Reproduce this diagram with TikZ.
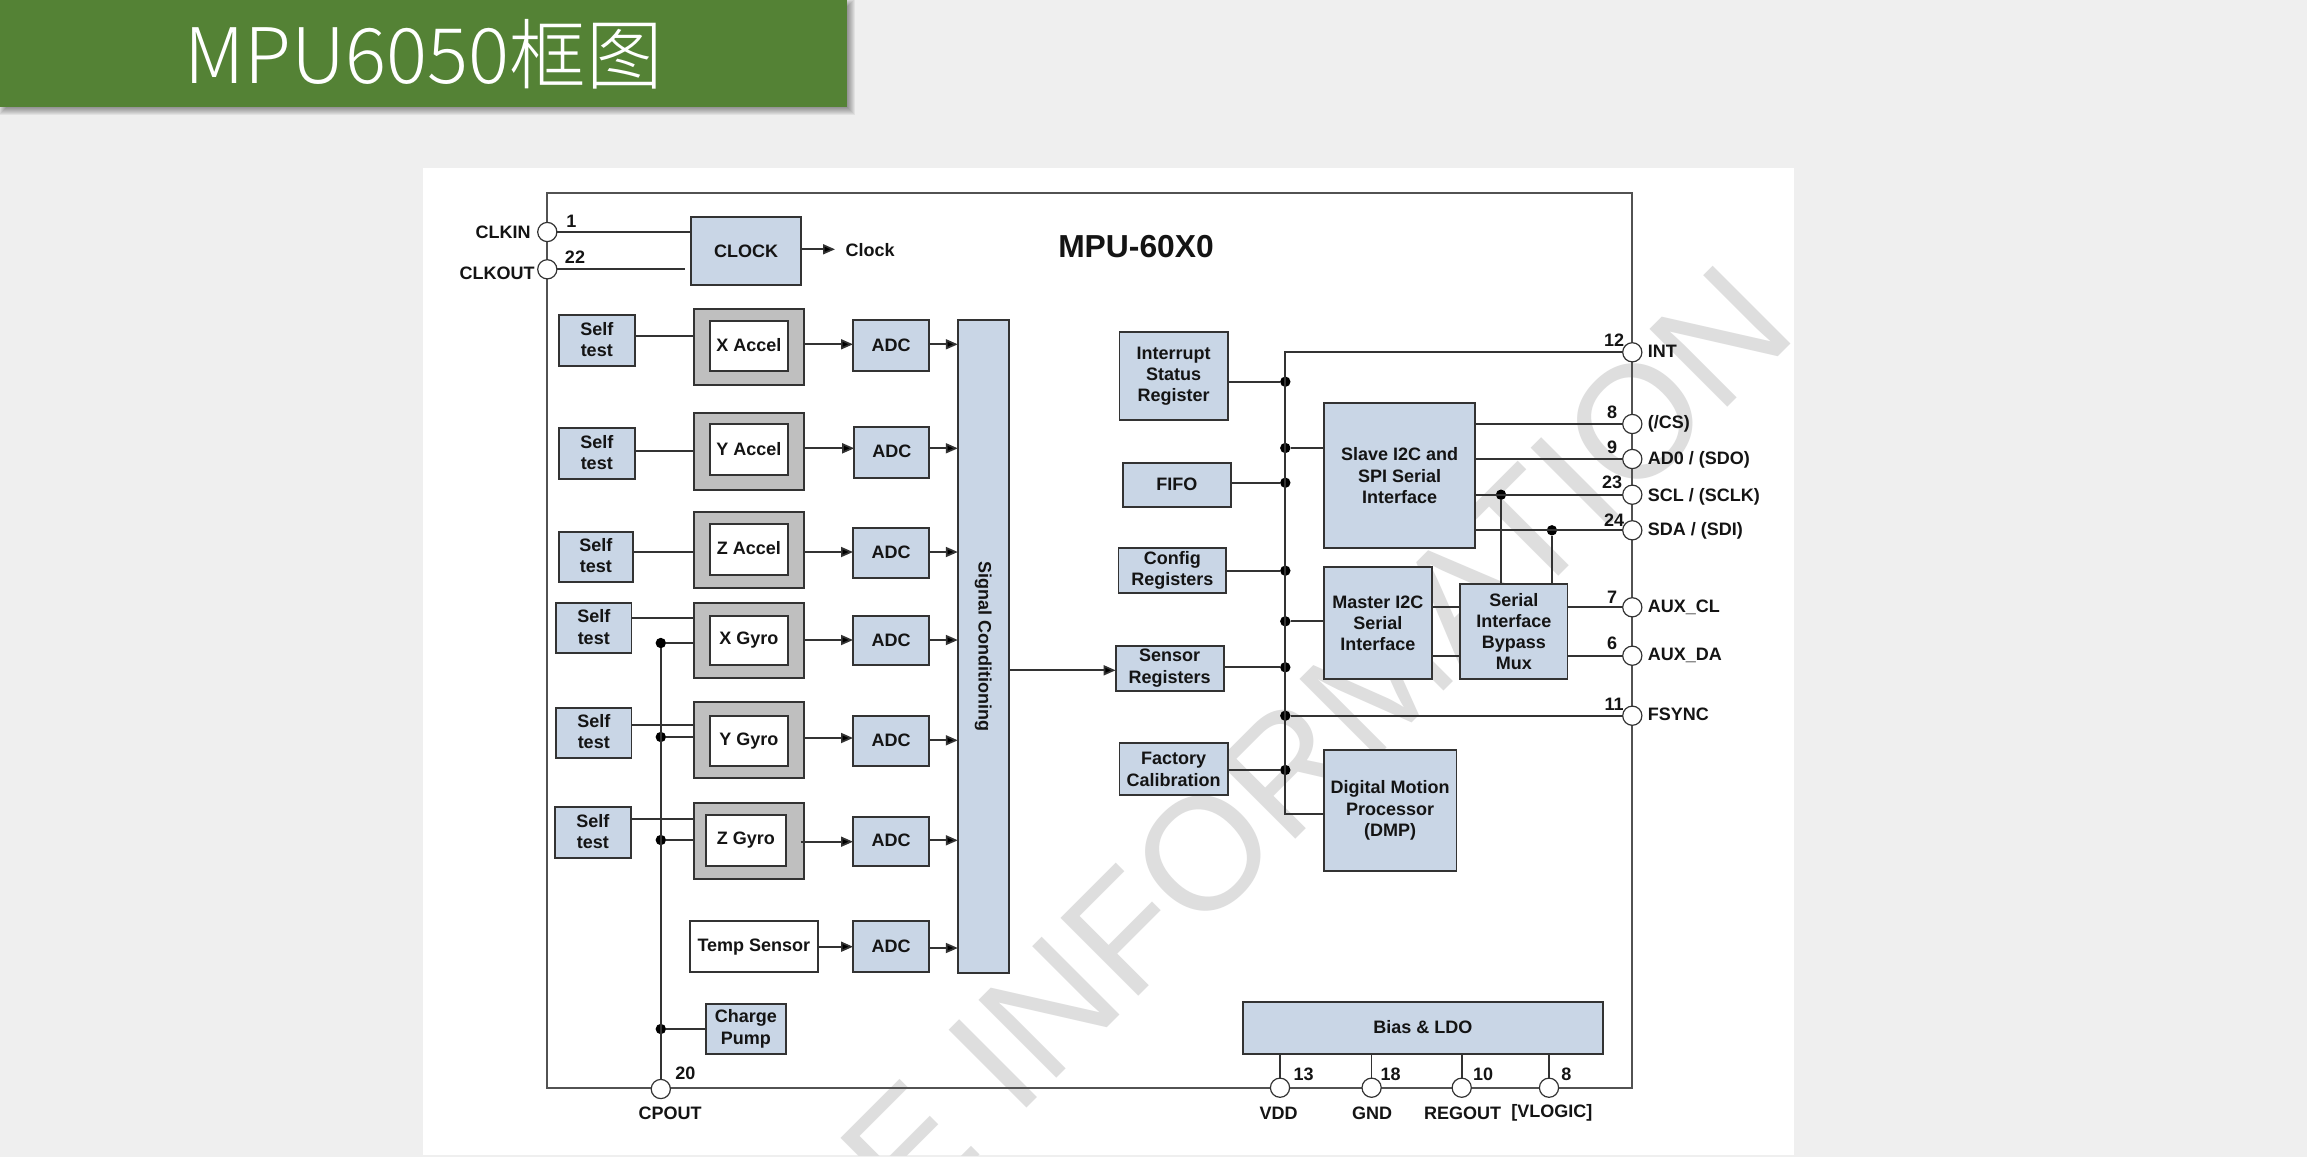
\documentclass[tikz,border=0pt]{standalone}
\usepackage{fontspec}
\setmainfont{Liberation Sans}
\newfontfamily\cjktitle{Noto Sans CJK SC Light}
\usetikzlibrary{arrows.meta}
\definecolor{bgpage}{HTML}{EFEFEF}
\definecolor{bannergreen}{HTML}{548235}
\definecolor{blockblue}{HTML}{C9D6E6}
\definecolor{sensorgrey}{HTML}{BFBFBF}
\definecolor{inkline}{HTML}{333333}
\definecolor{inktext}{HTML}{141414}
\definecolor{markgrey}{HTML}{DEDEDE}
\newcommand{\mkbox}[7]{%
  \pgfmathsetmacro{\cxx}{(#3+#5)/2}%
  \pgfmathsetmacro{\cyy}{(#4+#6)/2}%
  \pgfmathsetmacro{\wdd}{(#5-#3)*0.5}%
  \pgfmathsetmacro{\htt}{(#6-#4)*0.5}%
  \node[#1,minimum width=\wdd pt,minimum height=\htt pt] (#2) at (\cxx,\cyy) {#7};}
\newcommand{\up}[2]{\raisebox{#1}{#2}}
\tikzset{
  x=0.5pt,y=-0.5pt,
  boxtext/.style={font=\fontsize{9}{10.6}\selectfont\bfseries,text=inktext,align=center},
  blockbox/.style={draw=inkline,line width=0.9pt,fill=blockblue,inner sep=0pt,outer sep=0pt,boxtext},
  sensorouter/.style={draw=inkline,line width=0.9pt,fill=sensorgrey,inner sep=0pt,outer sep=0pt},
  sensorinner/.style={draw=inkline,line width=0.9pt,fill=white,inner sep=0pt,outer sep=0pt,boxtext},
  chipbox/.style={draw=inkline!85,line width=0.9pt,fill=none,inner sep=0pt,outer sep=0pt},
  pinring/.style={circle,draw=inkline,line width=0.6pt,fill=white,minimum size=9.6pt,inner sep=0pt,outer sep=0pt},
  busdot/.style={circle,fill=black,minimum size=5.2pt,inner sep=0pt,outer sep=0pt},
  wire/.style={draw=inkline,line width=0.85pt},
  arrowwire/.style={wire,-{Triangle[length=6pt,width=5pt,fill=black]}},
  lbl/.style={font=\fontsize{9}{10.6}\selectfont\bfseries,text=inktext,inner sep=0pt,outer sep=0pt,text height=6.5pt,text depth=0pt},
}
\begin{document}
\begin{tikzpicture}
\useasboundingbox (0,0) rectangle (2307,1157);
\fill[bgpage] (0,0) rectangle (2307,1157);
% white panel
\fill[white] (423,168) rectangle (1794,1155);
% watermark
\begin{scope}
\clip (423,168) rectangle (1794,1155);
\node[rotate=45,anchor=base east,inner sep=0pt,text=markgrey,font=\fontsize{80}{80}\selectfont] (watermark) at (1800,335) {CE INFORMATION};
\end{scope}
% banner with soft shadow
\foreach \gr in {4,3,2,1,0,-1,-2,-3,-4}{
  \fill[black,opacity=0.055] ({3-\gr},{3-\gr}) rectangle ({851+\gr},{111+\gr});
}
\fill[bannergreen] (0,0) rectangle (847,107);
\node[anchor=west,inner sep=0pt,text=white,font=\cjktitle\fontsize{38.3}{38.3}\selectfont] (title) at (184,54) {MPU6050框图};
% chip outline
\mkbox{chipbox}{chip}{547.3}{192.7}{1632.3}{1087.7}{}
% title in chip
\node[font=\fontsize{15.9}{16}\selectfont\bfseries,text=inktext,inner sep=0pt] (chipname) at (1136,247) {MPU-60X0};
% clock
\mkbox{blockbox}{clock}{691.3}{217}{800.8}{284.7}{CLOCK}
% self tests
\mkbox{blockbox}{st1}{558.8}{315}{634.7}{366}{\up{1pt}{Self}\\\up{1pt}{test}}
\mkbox{blockbox}{st2}{558.8}{428}{634.7}{479}{\up{1pt}{Self}\\\up{1pt}{test}}
\mkbox{blockbox}{st3}{558.8}{531.7}{633}{581.7}{\up{1pt}{Self}\\\up{1pt}{test}}
\mkbox{blockbox}{st4}{556}{602.7}{631.5}{653.3}{\up{1pt}{Self}\\\up{1pt}{test}}
\mkbox{blockbox}{st5}{556}{707.7}{631.5}{758}{\up{1pt}{Self}\\\up{1pt}{test}}
\mkbox{blockbox}{st6}{554.8}{807}{630.8}{858.3}{\up{1pt}{Self}\\\up{1pt}{test}}
% sensors
\mkbox{sensorouter}{xao}{694}{308.7}{804.3}{385}{}
\mkbox{sensorinner}{xai}{709.8}{320.7}{788.1}{371.3}{\up{0.7pt}{X Accel}}
\mkbox{sensorouter}{yao}{694}{413.3}{804.3}{490}{}
\mkbox{sensorinner}{yai}{709.8}{424}{788.1}{475}{\up{0.7pt}{Y Accel}}
\mkbox{sensorouter}{zao}{694}{512}{804.3}{588}{}
\mkbox{sensorinner}{zai}{709.8}{524}{788.1}{575}{\up{1.5pt}{Z Accel}}
\mkbox{sensorouter}{xgo}{694}{602.7}{804.3}{678.3}{}
\mkbox{sensorinner}{xgi}{709.8}{615.7}{788.1}{665}{X Gyro}
\mkbox{sensorouter}{ygo}{694}{702}{804.3}{778}{}
\mkbox{sensorinner}{ygi}{709.8}{715.7}{788.1}{766.3}{Y Gyro}
\mkbox{sensorouter}{zgo}{694}{803.3}{804.3}{879.3}{}
\mkbox{sensorinner}{zgi}{705.9}{815}{785.8}{865.7}{Z Gyro}
\mkbox{sensorinner}{temp}{690}{921.3}{817.8}{972.3}{Temp Sensor}
% ADCs
\mkbox{blockbox}{adc1}{853}{320.3}{929.3}{371.3}{\up{0.5pt}{ADC}}
\mkbox{blockbox}{adc2}{854.2}{426.7}{929.3}{477.7}{\up{0.5pt}{ADC}}
\mkbox{blockbox}{adc3}{853}{527.7}{929.3}{577.7}{\up{0.5pt}{ADC}}
\mkbox{blockbox}{adc4}{853}{615.7}{929.3}{665.3}{\up{0.5pt}{ADC}}
\mkbox{blockbox}{adc5}{853}{715.7}{929.3}{766.3}{\up{0.5pt}{ADC}}
\mkbox{blockbox}{adc6}{853}{816.7}{929.3}{865.7}{\up{0.5pt}{ADC}}
\mkbox{blockbox}{adc7}{853}{921.3}{929.3}{972.3}{\up{0.5pt}{ADC}}
% signal conditioning
\mkbox{blockbox}{sig}{957.8}{320.3}{1008.8}{973.3}{}
\node[boxtext,rotate=-90,inner sep=0pt] (sigtxt) at (sig.center) {Signal Conditioning};
\mkbox{blockbox}{pump}{705.9}{1004}{785.8}{1053.7}{Charge\\Pump}
% right side blocks
\mkbox{blockbox}{irq}{1119.5}{332.3}{1227.6}{420}{Interrupt\\Status\\Register}
\mkbox{blockbox}{fifo}{1122.9}{462.7}{1231}{506.7}{\up{0.5pt}{FIFO}}
\mkbox{blockbox}{cfg}{1118.5}{547.7}{1226.1}{593.3}{Config\\Registers}
\mkbox{blockbox}{sensor}{1115.6}{645.7}{1223.7}{690.7}{Sensor\\Registers}
\mkbox{blockbox}{factory}{1119.5}{743.3}{1227.6}{795.3}{Factory\\Calibration}
\mkbox{blockbox}{slave}{1324}{403}{1475.3}{548.3}{Slave I2C and\\SPI Serial\\Interface}
\mkbox{blockbox}{master}{1324}{567.3}{1431.7}{679.3}{Master I2C\\Serial\\Interface}
\mkbox{blockbox}{bypass}{1460.3}{584}{1567.4}{679.3}{Serial\\Interface\\Bypass\\Mux}
\mkbox{blockbox}{dmp}{1324}{749.7}{1456.4}{871}{Digital Motion\\Processor\\(DMP)}
\mkbox{blockbox}{bias}{1243.1}{1002.3}{1602.8}{1053.7}{\up{0.7pt}{Bias \& LDO}}
% junction dots
\node[busdot] (dclk1) at (660.8,643) {};
\node[busdot] (dclk2) at (660.8,737) {};
\node[busdot] (dclk3) at (660.8,840) {};
\node[busdot] (dclk4) at (660.8,1029) {};
\node[busdot] (dbus1) at (1285.3,381.7) {};
\node[busdot] (dbus2) at (1285.3,448) {};
\node[busdot] (dbus3) at (1285.3,482.7) {};
\node[busdot] (dbus4) at (1285.3,570.7) {};
\node[busdot] (dbus5) at (1285.3,621.3) {};
\node[busdot] (dbus6) at (1285.3,667.3) {};
\node[busdot] (dbus7) at (1285.3,715.7) {};
\node[busdot] (dbus8) at (1285.3,770) {};
\node[busdot] (dscl) at (1501,494.7) {};
\node[busdot] (dsda) at (1551.9,530.3) {};
\coordinate (busend) at (1285.3,813.7);
% pins
\node[pinring] (pclkin) at (547.3,232) {};
\node[pinring] (pclkout) at (547.3,269.3) {};
\node[pinring] (pcpout) at (660.8,1089) {};
\node[pinring] (pvdd) at (1280,1087.7) {};
\node[pinring] (pgnd) at (1371.6,1087.7) {};
\node[pinring] (pregout) at (1461.7,1087.7) {};
\node[pinring] (pvlogic) at (1549,1087.7) {};
\node[pinring] (pint) at (1632.3,352.3) {};
\node[pinring] (pcs) at (1632.3,424) {};
\node[pinring] (pad0) at (1632.3,459) {};
\node[pinring] (pscl) at (1632.3,494.7) {};
\node[pinring] (psda) at (1632.3,530.3) {};
\node[pinring] (pauxcl) at (1632.3,607.3) {};
\node[pinring] (pauxda) at (1632.3,655.7) {};
\node[pinring] (pfsync) at (1632.3,715.7) {};
\coordinate (clockout) at (835,249.3);
% connectors
\begin{scope}[every path/.style={wire}]
\draw (pclkin) -- (pclkin -| clock.west);
\draw (pclkout) -- ([xshift=-3pt]pclkout -| clock.west);
\draw (st1.east |- 0,336) -- (xao.west |- 0,336);
\draw (st2.east |- 0,450.7) -- (yao.west |- 0,450.7);
\draw (st3.east |- 0,552) -- (zao.west |- 0,552);
\draw (st4.east |- 0,618) -- (xgo.west |- 0,618);
\draw (st5.east |- 0,724.7) -- (ygo.west |- 0,724.7);
\draw (st6.east |- 0,819) -- (zgo.west |- 0,819);
\draw (dclk1) -- (pcpout);
\draw (dclk1) -- (dclk1 -| xgo.west);
\draw (dclk2) -- (dclk2 -| ygo.west);
\draw (dclk3) -- (dclk3 -| zgo.west);
\draw (dclk4) -- (dclk4 -| pump.west);
\draw (pint) -- (pint -| dbus1) -- (busend) -- (busend -| dmp.west);
\draw (irq.east |- dbus1) -- (dbus1);
\draw (slave.west |- dbus2) -- (dbus2);
\draw (fifo.east |- dbus3) -- (dbus3);
\draw (cfg.east |- dbus4) -- (dbus4);
\draw (master.west |- dbus5) -- (dbus5);
\draw (sensor.east |- dbus6) -- (dbus6);
\draw (dbus7) -- (pfsync);
\draw (factory.east |- dbus8) -- (dbus8);
\draw (slave.east |- pcs) -- (pcs);
\draw (slave.east |- pad0) -- (pad0);
\draw (slave.east |- pscl) -- (pscl);
\draw (slave.east |- psda) -- (psda);
\draw (dscl) -- (dscl |- bypass.north);
\draw (dsda) -- (dsda |- bypass.north);
\draw (master.east |- pauxcl) -- (bypass.west |- pauxcl);
\draw (master.east |- pauxda) -- (bypass.west |- pauxda);
\draw (bypass.east |- pauxcl) -- (pauxcl);
\draw (bypass.east |- pauxda) -- (pauxda);
\draw (pvdd) -- (pvdd |- bias.south);
\draw (pgnd) -- (pgnd |- bias.south);
\draw (pregout) -- (pregout |- bias.south);
\draw (pvlogic) -- (pvlogic |- bias.south);
\end{scope}
\begin{scope}[every path/.style={arrowwire}]
\draw (clock.east |- clockout) -- (clockout);
\draw (xao.east |- 0,344.3) -- (adc1.west |- 0,344.3);
\draw (yao.east |- 0,448.3) -- (adc2.west |- 0,448.3);
\draw (zao.east |- 0,552) -- (adc3.west |- 0,552);
\draw (xgo.east |- 0,640) -- (adc4.west |- 0,640);
\draw (ygo.east |- 0,738) -- (adc5.west |- 0,738);
\draw (zgi.east |- 0,841.7) ++(15,0) -- (adc6.west |- 0,841.7);
\draw (temp.east |- 0,946.7) -- (adc7.west |- 0,946.7);
\draw (adc1.east |- 0,344.3) -- (sig.west |- 0,344.3);
\draw (adc2.east |- 0,448.3) -- (sig.west |- 0,448.3);
\draw (adc3.east |- 0,552) -- (sig.west |- 0,552);
\draw (adc4.east |- 0,640) -- (sig.west |- 0,640);
\draw (adc5.east |- 0,740.3) -- (sig.west |- 0,740.3);
\draw (adc6.east |- 0,840.3) -- (sig.west |- 0,840.3);
\draw (adc7.east |- 0,948) -- (sig.west |- 0,948);
\draw (sig.east |- 0,670.3) -- (sensor.west |- 0,670.3);
\end{scope}
% labels
\node[lbl,anchor=east] (tclkin) at (530.7,232) {CLKIN};
\node[lbl,anchor=east] (tclkout) at (534.7,272.7) {CLKOUT};
\node[lbl] (n1) at (571.4,221.3) {1};
\node[lbl] (n22) at (575,257.3) {22};
\node[lbl,anchor=west] (tclock) at (845.5,250) {Clock};
\node[lbl] (n20) at (685.3,1072.7) {20};
\node[lbl] (tcpout) at (670,1112.7) {CPOUT};
\node[lbl] (n13) at (1303.7,1074) {13};
\node[lbl] (n18) at (1390.5,1074) {18};
\node[lbl] (n10) at (1483,1074) {10};
\node[lbl] (n8b) at (1566.4,1074) {8};
\node[lbl] (tvdd) at (1278.5,1112.7) {VDD};
\node[lbl] (tgnd) at (1372,1112.7) {GND};
\node[lbl] (tregout) at (1462.7,1112.7) {REGOUT};
\node[lbl] (tvlogic) at (1551.9,1111) {[VLOGIC]};
\node[lbl] (n12) at (1614,340) {12};
\node[lbl] (n8) at (1612,412) {8};
\node[lbl] (n9) at (1612,447) {9};
\node[lbl] (n23) at (1612,482) {23};
\node[lbl] (n24) at (1614,520) {24};
\node[lbl] (n7) at (1612,596.7) {7};
\node[lbl] (n6) at (1612,643) {6};
\node[lbl] (n11) at (1614,704) {11};
\node[lbl,anchor=west] (tint) at (1647.9,351) {INT};
\node[lbl,anchor=west] (tcs) at (1647.9,422.3) {(/CS)};
\node[lbl,anchor=west] (tad0) at (1647.9,458.3) {AD0 / (SDO)};
\node[lbl,anchor=west] (tscl) at (1647.9,494.7) {SCL / (SCLK)};
\node[lbl,anchor=west] (tsda) at (1647.9,529.3) {SDA / (SDI)};
\node[lbl,anchor=west] (tauxcl) at (1647.9,606.3) {AUX\_CL};
\node[lbl,anchor=west] (tauxda) at (1647.9,654) {AUX\_DA};
\node[lbl,anchor=west] (tfsync) at (1647.9,713.7) {FSYNC};
\end{tikzpicture}
\end{document}
